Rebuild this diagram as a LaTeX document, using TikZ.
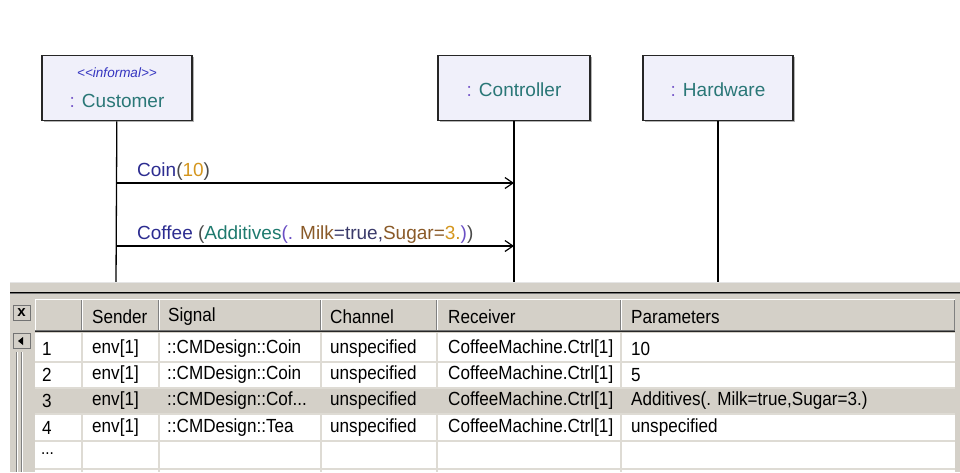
\documentclass[tikz,border=0pt]{standalone}
\usepackage{fontspec}
\setmainfont{Liberation Sans}
\newfontfamily\gridfont[FakeStretch=0.9]{Liberation Sans}
\usepackage{tikz}
\usepackage{xcolor}
\usetikzlibrary{arrows.meta,shadows}

\definecolor{boxfill}{HTML}{F0F0FA}
\definecolor{nameteal}{HTML}{2A7777}
\definecolor{colonpurple}{HTML}{7A5CCB}
\definecolor{stereoblue}{HTML}{3535C0}
\definecolor{msgblue}{HTML}{2C2C90}
\definecolor{parengray}{HTML}{4A4A4A}
\definecolor{valorange}{HTML}{D4961E}
\definecolor{argteal}{HTML}{1E7A6E}
\definecolor{dotpurple}{HTML}{6A4FC4}
\definecolor{parambrown}{HTML}{8A5A28}
\definecolor{valdark}{HTML}{3A3A6A}
\definecolor{panelgray}{HTML}{D4D0C8}
\definecolor{gridgray}{HTML}{DEDBD4}

\begin{document}
\begin{tikzpicture}[x=1pt,y=-1pt,
head_box/.style={rectangle,draw=black!85,line width=1.6pt,fill=boxfill,minimum height=65pt,inner sep=0pt,text=nameteal,font=\fontsize{19}{22}\selectfont,drop shadow={shadow xshift=1.5pt,shadow yshift=-1.5pt,opacity=0.6,fill=black!50}},
life_line/.style={line width=1.3pt},
msg_line/.style={line width=1.2pt,-{Straight Barb[length=8pt,width=11pt]}},
msg_text/.style={anchor=base west,inner sep=0pt,font=\fontsize{19}{22}\selectfont},
cell_text/.style={anchor=west,inner sep=0pt,font=\gridfont\fontsize{19}{22}\selectfont},
tool_btn/.style={rectangle,fill=panelgray,draw=black!55,minimum width=17pt,minimum height=15pt,inner sep=0pt,font=\fontsize{15}{15}\selectfont\bfseries}]

\useasboundingbox (0,0) rectangle (960,472);

\node[head_box,minimum width=150pt,align=center] (customer) at (117,88) {{\fontsize{13.5}{13.5}\selectfont\itshape\color{stereoblue}<{}<informal>{}>}\\[8pt]\textcolor{colonpurple}{:} Customer};
\node[head_box,minimum width=152pt,text height=17pt] (controller) at (514,88) {\textcolor{colonpurple}{:} Controller};
\node[head_box,minimum width=150pt,text height=17pt] (hardware) at (718,88) {\textcolor{colonpurple}{:} Hardware};

\coordinate (customer_end) at (116,284);
\coordinate (controller_end) at (514,284);
\coordinate (hardware_end) at (718,284);

\path[draw, life_line]
(customer) edge (customer_end)
(controller) edge (controller_end)
(hardware) edge (hardware_end)
;

\coordinate (coin_from) at (116,183);
\coordinate (coin_to) at (514,183);
\coordinate (coffee_from) at (116,246);
\coordinate (coffee_to) at (514,246);

\draw[msg_line] (coin_from) -- (coin_to);
\draw[msg_line] (coffee_from) -- (coffee_to);

\node[msg_text] (coin_label) at (137,176) {\textcolor{msgblue}{Coin}\textcolor{parengray}{(}\textcolor{valorange}{10}\textcolor{parengray}{)}};
\node[msg_text] (coffee_label) at (137,239) {\textcolor{msgblue}{Coffee} \textcolor{parengray}{(}\textcolor{argteal}{Additives}\textcolor{dotpurple}{(.} \textcolor{parambrown}{Milk}\textcolor{valdark}{=true,}\textcolor{parambrown}{Sugar=}\textcolor{valorange}{3.}\textcolor{dotpurple}{)}\textcolor{parengray}{)}};

\fill[panelgray] (10,282) rectangle (960,472);
\draw[black!10,line width=1pt] (10,282.5) -- (960,282.5);
\draw[black,line width=1pt] (10,292.5) -- (960,292.5);
\draw[black!55,line width=1pt] (10,293.5) -- (960,293.5);

\foreach \xa/\xb in {35/82,82/159,159/321,321/437,437/621,621/955}{
\draw[white,line width=1pt] (\xa+0.5,331) -- (\xa+0.5,299.5) -- (\xb,299.5);
\draw[black!50,line width=1pt] (\xb-0.5,300) -- (\xb-0.5,331);
}
\draw[black!55,line width=1pt] (35,330.5) -- (955,330.5);
\draw[black!85,line width=1pt] (35,331.5) -- (955,331.5);

\fill[white] (35,333) rectangle (955,472);
\fill[panelgray] (35,388) rectangle (955,413.5);
\foreach \yy in {361.5,387.5,414,440.5,468.5}
\draw[gridgray,line width=2pt] (35,\yy) -- (955,\yy);
\foreach \xx in {82,159,321,437,621}{
\draw[gridgray,line width=2pt] (\xx,333) -- (\xx,388);
\draw[gridgray,line width=2pt] (\xx,413.5) -- (\xx,472);
}

\node[tool_btn] (close_btn) at (21.5,312.5) {x};
\node[tool_btn] (back_btn) at (21.5,341) {};
\fill[black] (18,341) -- (23,337) -- (23,345) -- cycle;
\foreach \xx in {16,21}{
\draw[black!50,line width=1pt] (\xx,352) -- (\xx,472);
\draw[white,line width=1pt] (\xx+1,352) -- (\xx+1,472);
}

\node[cell_text] (h_sender) at (92,317) {Sender};
\node[cell_text] (h_signal) at (168,317) {Signal};
\node[cell_text] (h_channel) at (330,317) {Channel};
\node[cell_text] (h_receiver) at (448,317) {Receiver};
\node[cell_text] (h_params) at (631,317) {Parameters};

\node[cell_text] (r1_num) at (42,349) {1};
\node[cell_text] (r1_sender) at (92,349) {env[1]};
\node[cell_text] (r1_signal) at (167,349) {::CMDesign::Coin};
\node[cell_text] (r1_channel) at (330,349) {unspecified};
\node[cell_text] (r1_receiver) at (448,349) {CoffeeMachine.Ctrl[1]};
\node[cell_text] (r1_params) at (631,349) {10};

\node[cell_text] (r2_num) at (42,375) {2};
\node[cell_text] (r2_sender) at (92,375) {env[1]};
\node[cell_text] (r2_signal) at (167,375) {::CMDesign::Coin};
\node[cell_text] (r2_channel) at (330,375) {unspecified};
\node[cell_text] (r2_receiver) at (448,375) {CoffeeMachine.Ctrl[1]};
\node[cell_text] (r2_params) at (631,375) {5};

\node[cell_text] (r3_num) at (42,401) {3};
\node[cell_text] (r3_sender) at (92,401) {env[1]};
\node[cell_text] (r3_signal) at (167,401) {::CMDesign::Cof...};
\node[cell_text] (r3_channel) at (330,401) {unspecified};
\node[cell_text] (r3_receiver) at (448,401) {CoffeeMachine.Ctrl[1]};
\node[cell_text] (r3_params) at (631,401) {Additives(. Milk=true,Sugar=3.)};

\node[cell_text] (r4_num) at (42,428) {4};
\node[cell_text] (r4_sender) at (92,428) {env[1]};
\node[cell_text] (r4_signal) at (167,428) {::CMDesign::Tea};
\node[cell_text] (r4_channel) at (330,428) {unspecified};
\node[cell_text] (r4_receiver) at (448,428) {CoffeeMachine.Ctrl[1]};
\node[cell_text] (r4_params) at (631,428) {unspecified};

\node[cell_text,font=\gridfont\fontsize{17}{17}\selectfont] (r5_num) at (41,454) {...};

\end{tikzpicture}
\end{document}
